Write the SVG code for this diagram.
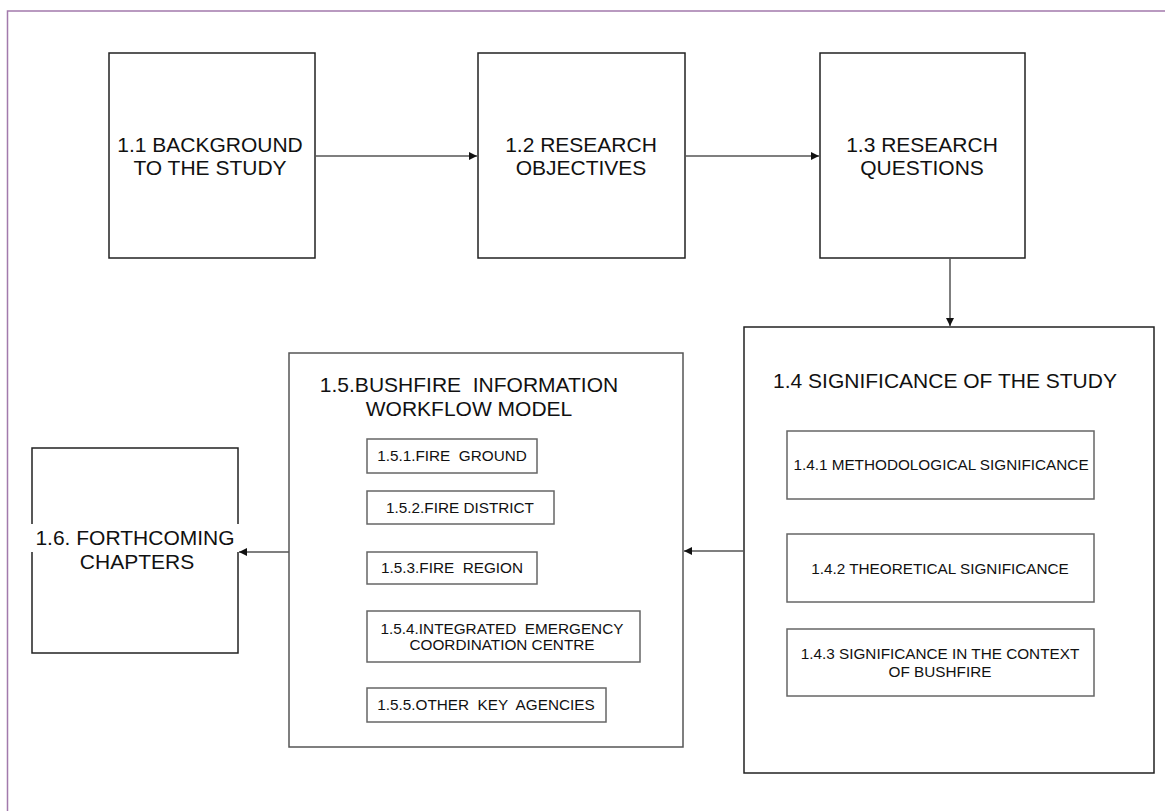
<svg xmlns="http://www.w3.org/2000/svg" width="1165" height="811" viewBox="0 0 1165 811">
<style>
  text { font-family: "Liberation Sans", Arial, sans-serif; fill: #111; }
  .big { font-size: 21px; }
  .small { font-size: 15.3px; }
  .pre { white-space: pre; }
  .main { fill: #fff; stroke: #222; stroke-width: 1.5; }
  .sub { fill: #fff; stroke: #666; stroke-width: 1.5; }
  .conn { stroke: #555; stroke-width: 1.5; fill: none; }
</style>
<defs>
  <marker id="arr" viewBox="0 0 10 10" refX="10" refY="5" markerWidth="8" markerHeight="8" markerUnits="userSpaceOnUse" orient="auto">
    <path d="M0,0 L10,5 L0,10 z" fill="#111"/>
  </marker>
</defs>
<rect width="1165" height="811" fill="#fff"/>
<path d="M7.5,811 L7.5,11 L1165,11" fill="none" stroke="#a27aac" stroke-width="1.5"/>

<g id="n11">
  <rect class="main" x="109" y="53" width="206" height="205"/>
  <text class="big" text-anchor="middle" x="210" y="152">1.1 BACKGROUND</text>
  <text class="big" text-anchor="middle" x="210" y="175">TO THE STUDY</text>
</g>
<g id="n12">
  <rect class="main" x="478" y="53" width="207" height="205"/>
  <text class="big" text-anchor="middle" x="581" y="152">1.2 RESEARCH</text>
  <text class="big" text-anchor="middle" x="581" y="175">OBJECTIVES</text>
</g>
<g id="n13">
  <rect class="main" x="820" y="53" width="205" height="205"/>
  <text class="big" text-anchor="middle" x="922" y="152">1.3 RESEARCH</text>
  <text class="big" text-anchor="middle" x="922" y="175">QUESTIONS</text>
</g>
<g id="n14">
  <rect class="main" x="744" y="327" width="410" height="446"/>
  <text class="big" text-anchor="middle" x="945" y="388">1.4 SIGNIFICANCE OF THE STUDY</text>
  <g id="n141">
    <rect class="sub" x="787" y="431" width="307" height="68"/>
    <text class="small" text-anchor="middle" x="941" y="470">1.4.1 METHODOLOGICAL SIGNIFICANCE</text>
  </g>
  <g id="n142">
    <rect class="sub" x="787" y="534" width="307" height="68"/>
    <text class="small" text-anchor="middle" x="940" y="574">1.4.2 THEORETICAL SIGNIFICANCE</text>
  </g>
  <g id="n143">
    <rect class="sub" x="787" y="629" width="307" height="67"/>
    <text class="small" text-anchor="middle" x="940" y="659">1.4.3 SIGNIFICANCE IN THE CONTEXT</text>
    <text class="small" text-anchor="middle" x="940" y="677">OF BUSHFIRE</text>
  </g>
</g>
<g id="n15">
  <rect class="main" x="289" y="353" width="394" height="394" style="stroke:#555"/>
  <text class="big pre" text-anchor="middle" x="469" y="392" xml:space="preserve">1.5.BUSHFIRE  INFORMATION</text>
  <text class="big" text-anchor="middle" x="469" y="416">WORKFLOW MODEL</text>
  <g id="n151">
    <rect class="sub" x="367" y="439" width="170" height="34"/>
    <text class="small pre" text-anchor="middle" x="452" y="461" xml:space="preserve">1.5.1.FIRE  GROUND</text>
  </g>
  <g id="n152">
    <rect class="sub" x="367" y="491" width="187" height="33"/>
    <text class="small" text-anchor="middle" x="460" y="513">1.5.2.FIRE DISTRICT</text>
  </g>
  <g id="n153">
    <rect class="sub" x="367" y="552" width="170" height="32"/>
    <text class="small pre" text-anchor="middle" x="452" y="573" xml:space="preserve">1.5.3.FIRE  REGION</text>
  </g>
  <g id="n154">
    <rect class="sub" x="367" y="611" width="273" height="51"/>
    <text class="small pre" text-anchor="middle" x="502" y="634" xml:space="preserve">1.5.4.INTEGRATED  EMERGENCY</text>
    <text class="small" text-anchor="middle" x="502" y="650">COORDINATION CENTRE</text>
  </g>
  <g id="n155">
    <rect class="sub" x="367" y="688" width="239" height="34"/>
    <text class="small pre" text-anchor="middle" x="486" y="710" xml:space="preserve">1.5.5.OTHER  KEY  AGENCIES</text>
  </g>
</g>
<g id="n16">
  <rect class="main" x="32" y="448" width="206" height="205"/>
  <rect x="31" y="524" width="208" height="28" fill="#fff"/>
  <text class="big" text-anchor="middle" x="135" y="545">1.6. FORTHCOMING</text>
  <text class="big" text-anchor="middle" x="137" y="569">CHAPTERS</text>
</g>

<g id="connectors">
  <line class="conn" x1="315" y1="156" x2="477" y2="156" marker-end="url(#arr)"/>
  <line class="conn" x1="685" y1="156" x2="819" y2="156" marker-end="url(#arr)"/>
  <line class="conn" x1="950" y1="258" x2="950" y2="326" marker-end="url(#arr)"/>
  <line class="conn" x1="744" y1="551" x2="684" y2="551" marker-end="url(#arr)"/>
  <line class="conn" x1="289" y1="552" x2="239" y2="552" marker-end="url(#arr)"/>
</g>
</svg>
